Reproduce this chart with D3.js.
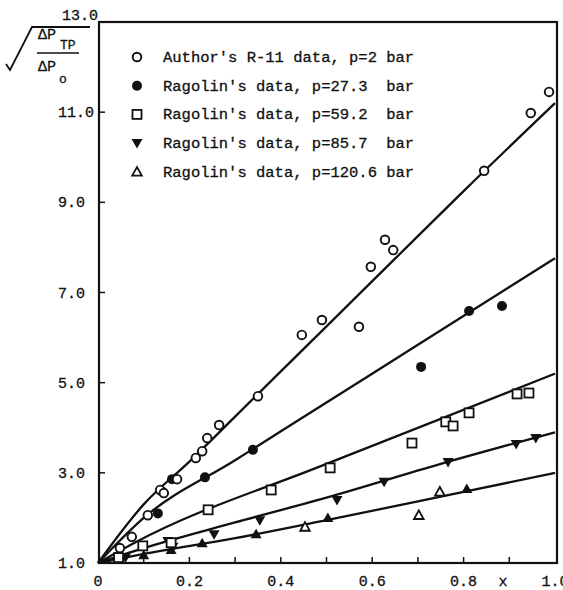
<!DOCTYPE html>
<html>
<head>
<meta charset="utf-8">
<script src="https://cdn.jsdelivr.net/npm/d3@7"></script>
<style>
  body { margin: 0; background: #fff; }
  svg text { font-family: "Liberation Mono", "DejaVu Sans Mono", monospace; fill: #111; stroke: #111; stroke-width: 0.3px; }
</style>
</head>
<body>
<svg id="chart" width="563" height="590"></svg>
<script>
// values (x, sqrt(dPtp/dPo))
const authorPts = [[0.048,1.33],[0.074,1.58],[0.109,2.06],[0.136,2.62],[0.144,2.55],[0.173,2.86],
  [0.214,3.33],[0.228,3.48],[0.239,3.77],[0.265,4.06],[0.350,4.70],[0.446,6.06],[0.490,6.39],
  [0.571,6.24],[0.597,7.57],[0.628,8.17],[0.646,7.94],[0.845,9.70],[0.947,10.98],[0.987,11.45]];
const rag273Pts = [[0.131,2.10],[0.141,2.58],[0.162,2.86],[0.234,2.90],[0.339,3.51],
  [0.707,5.35],[0.812,6.59],[0.884,6.70]];
const rag592Pts = [[0.045,1.12],[0.098,1.38],[0.160,1.45],[0.241,2.18],[0.379,2.62],[0.508,3.11],
  [0.687,3.66],[0.761,4.13],[0.777,4.04],[0.812,4.33],[0.917,4.75],[0.943,4.77]];
const rag857Pts = [[0.060,1.12],[0.153,1.49],[0.164,1.36],[0.254,1.64],[0.354,1.95],[0.523,2.40],
  [0.626,2.80],[0.766,3.24],[0.915,3.64],[0.958,3.77]];
const rag1206Filled = [[0.100,1.17],[0.160,1.29],[0.228,1.44],[0.346,1.64],[0.503,2.00],[0.807,2.64]];
const rag1206Open = [[0.453,1.80],[0.702,2.06],[0.748,2.58]];

// hand-drawn fit curves
const authorFit = [[0,1],[0.1,2.3],[0.2,3.25],[0.35,4.75],[0.5,6.25],[0.65,7.75],[0.8,9.25],[1.0,11.2]];
const rag273Fit = [[0,1],[0.1,2.0],[0.3,3.28],[0.5,4.56],[0.7,5.84],[1.0,7.76]];
const rag592Fit = [[0,1],[0.08,1.45],[0.5,3.2],[1.0,5.2]];
const rag857Fit = [[0,1],[0.1,1.33],[0.3,1.9],[0.5,2.45],[0.75,3.2],[1.0,3.9]];
const rag1206Fit = [[0,1],[0.1,1.2],[0.3,1.55],[0.5,1.95],[0.75,2.47],[1.0,3.0]];

const xTicks = [0.1,0.2,0.3,0.4,0.5,0.6,0.7,0.8,0.9];
const xLabels = [0,0.2,0.4,0.6,0.8,1.0];
const yTicks = [3,5,7,9,11];
const yLabels = [1,3,5,7,9,11,13];

const legendRows = [
  {sym: "circleOpen", text: "Author's R-11 data, p=2 bar"},
  {sym: "circleFilled", text: "Ragolin's data, p=27.3  bar"},
  {sym: "square", text: "Ragolin's data, p=59.2  bar"},
  {sym: "triDown", text: "Ragolin's data, p=85.7  bar"},
  {sym: "triOpen", text: "Ragolin's data, p=120.6 bar"}
];

const svg = d3.select("#chart");
const x = d3.scaleLinear().domain([0, 1]).range([98, 555]);
const y = d3.scaleLinear().domain([1, 13]).range([563, 22]);

// frame
svg.append("rect")
  .attr("x", 99).attr("y", 22)
  .attr("width", 458).attr("height", 541)
  .attr("fill", "none").attr("stroke", "#111").attr("stroke-width", 2.2);

// ticks
svg.selectAll(".xt").data(xTicks).enter().append("line")
  .attr("x1", d => x(d)).attr("x2", d => x(d))
  .attr("y1", 563).attr("y2", 557)
  .attr("stroke", "#111").attr("stroke-width", 1.5);
svg.selectAll(".yt").data(yTicks).enter().append("line")
  .attr("x1", 99).attr("x2", 105)
  .attr("y1", d => y(d)).attr("y2", d => y(d))
  .attr("stroke", "#111").attr("stroke-width", 1.5);

svg.selectAll(".xl").data(xLabels).enter().append("text")
  .attr("x", d => x(d)).attr("y", 586)
  .attr("text-anchor", "middle").attr("font-size", 15)
  .text(d => d === 0 ? "0" : d.toFixed(1));
svg.append("text").attr("x", 503).attr("y", 586)
  .attr("text-anchor", "middle").attr("font-size", 15).text("x");

svg.selectAll(".yl").data(yLabels).enter().append("text")
  .attr("x", d => d === 13 ? 62 : 58).attr("y", d => d === 13 ? 20 : y(d) + 5)
  .attr("font-size", 15)
  .text(d => d.toFixed(1));

// y axis title: sqrt of the pressure ratio
svg.append("path")
  .attr("d", "M6,64 L10,70 L32,27 L90,27")
  .attr("fill", "none").attr("stroke", "#111").attr("stroke-width", 1.8);
svg.append("text").attr("x", 38).attr("y", 39).attr("font-size", 15).text("ΔP");
svg.append("text").attr("x", 60).attr("y", 49).attr("font-size", 13).text("TP");
svg.append("line").attr("x1", 37).attr("x2", 79).attr("y1", 53).attr("y2", 53)
  .attr("stroke", "#111").attr("stroke-width", 1.3);
svg.append("text").attr("x", 38).attr("y", 71).attr("font-size", 15).text("ΔP");
svg.append("text").attr("x", 59).attr("y", 83).attr("font-size", 13).text("o");

// fit lines
const line = d3.line().x(d => x(d[0])).y(d => y(d[1])).curve(d3.curveMonotoneX);
[authorFit, rag273Fit, rag592Fit, rag857Fit, rag1206Fit].forEach(f => {
  svg.append("path").datum(f).attr("d", line)
    .attr("fill", "none").attr("stroke", "#111").attr("stroke-width", 2.3);
});

// markers
function drawSym(g, sym, cx, cy) {
  if (sym === "circleOpen") {
    g.append("circle").attr("cx", cx).attr("cy", cy).attr("r", 4.3)
      .attr("fill", "#fff").attr("stroke", "#111").attr("stroke-width", 1.9);
  } else if (sym === "circleFilled") {
    g.append("circle").attr("cx", cx).attr("cy", cy).attr("r", 5)
      .attr("fill", "#111");
  } else if (sym === "square") {
    g.append("rect").attr("x", cx - 4.5).attr("y", cy - 4.5).attr("width", 9).attr("height", 9)
      .attr("fill", "#fff").attr("stroke", "#111").attr("stroke-width", 1.8);
  } else if (sym === "triDown") {
    g.append("path").attr("d", `M${cx-5.5},${cy-4} L${cx+5.5},${cy-4} L${cx},${cy+5.5}Z`)
      .attr("fill", "#111");
  } else if (sym === "triFilled") {
    g.append("path").attr("d", `M${cx-5.5},${cy+4} L${cx+5.5},${cy+4} L${cx},${cy-5.5}Z`)
      .attr("fill", "#111");
  } else if (sym === "triOpen") {
    g.append("path").attr("d", `M${cx-4.8},${cy+3.8} L${cx+4.8},${cy+3.8} L${cx},${cy-4.8}Z`)
      .attr("fill", "#fff").attr("stroke", "#111").attr("stroke-width", 1.8);
  }
}

const marks = svg.append("g");
const groups = [
  [rag1206Filled, "triFilled"], [rag1206Open, "triOpen"], [rag857Pts, "triDown"],
  [rag592Pts, "square"], [rag273Pts, "circleFilled"], [authorPts, "circleOpen"]
];
groups.forEach(([pts, sym]) => {
  pts.forEach(p => drawSym(marks, sym, x(p[0]), y(p[1])));
});

// legend
const legend = svg.append("g");
legendRows.forEach((r, i) => {
  const ly = 57 + i * 28.7;
  drawSym(legend, r.sym, 137, ly);
  legend.append("text").attr("x", 163).attr("y", ly + 5)
    .attr("font-size", 15.5).attr("xml:space", "preserve")
    .style("white-space", "pre")
    .text(r.text);
});
</script>
</body>
</html>
